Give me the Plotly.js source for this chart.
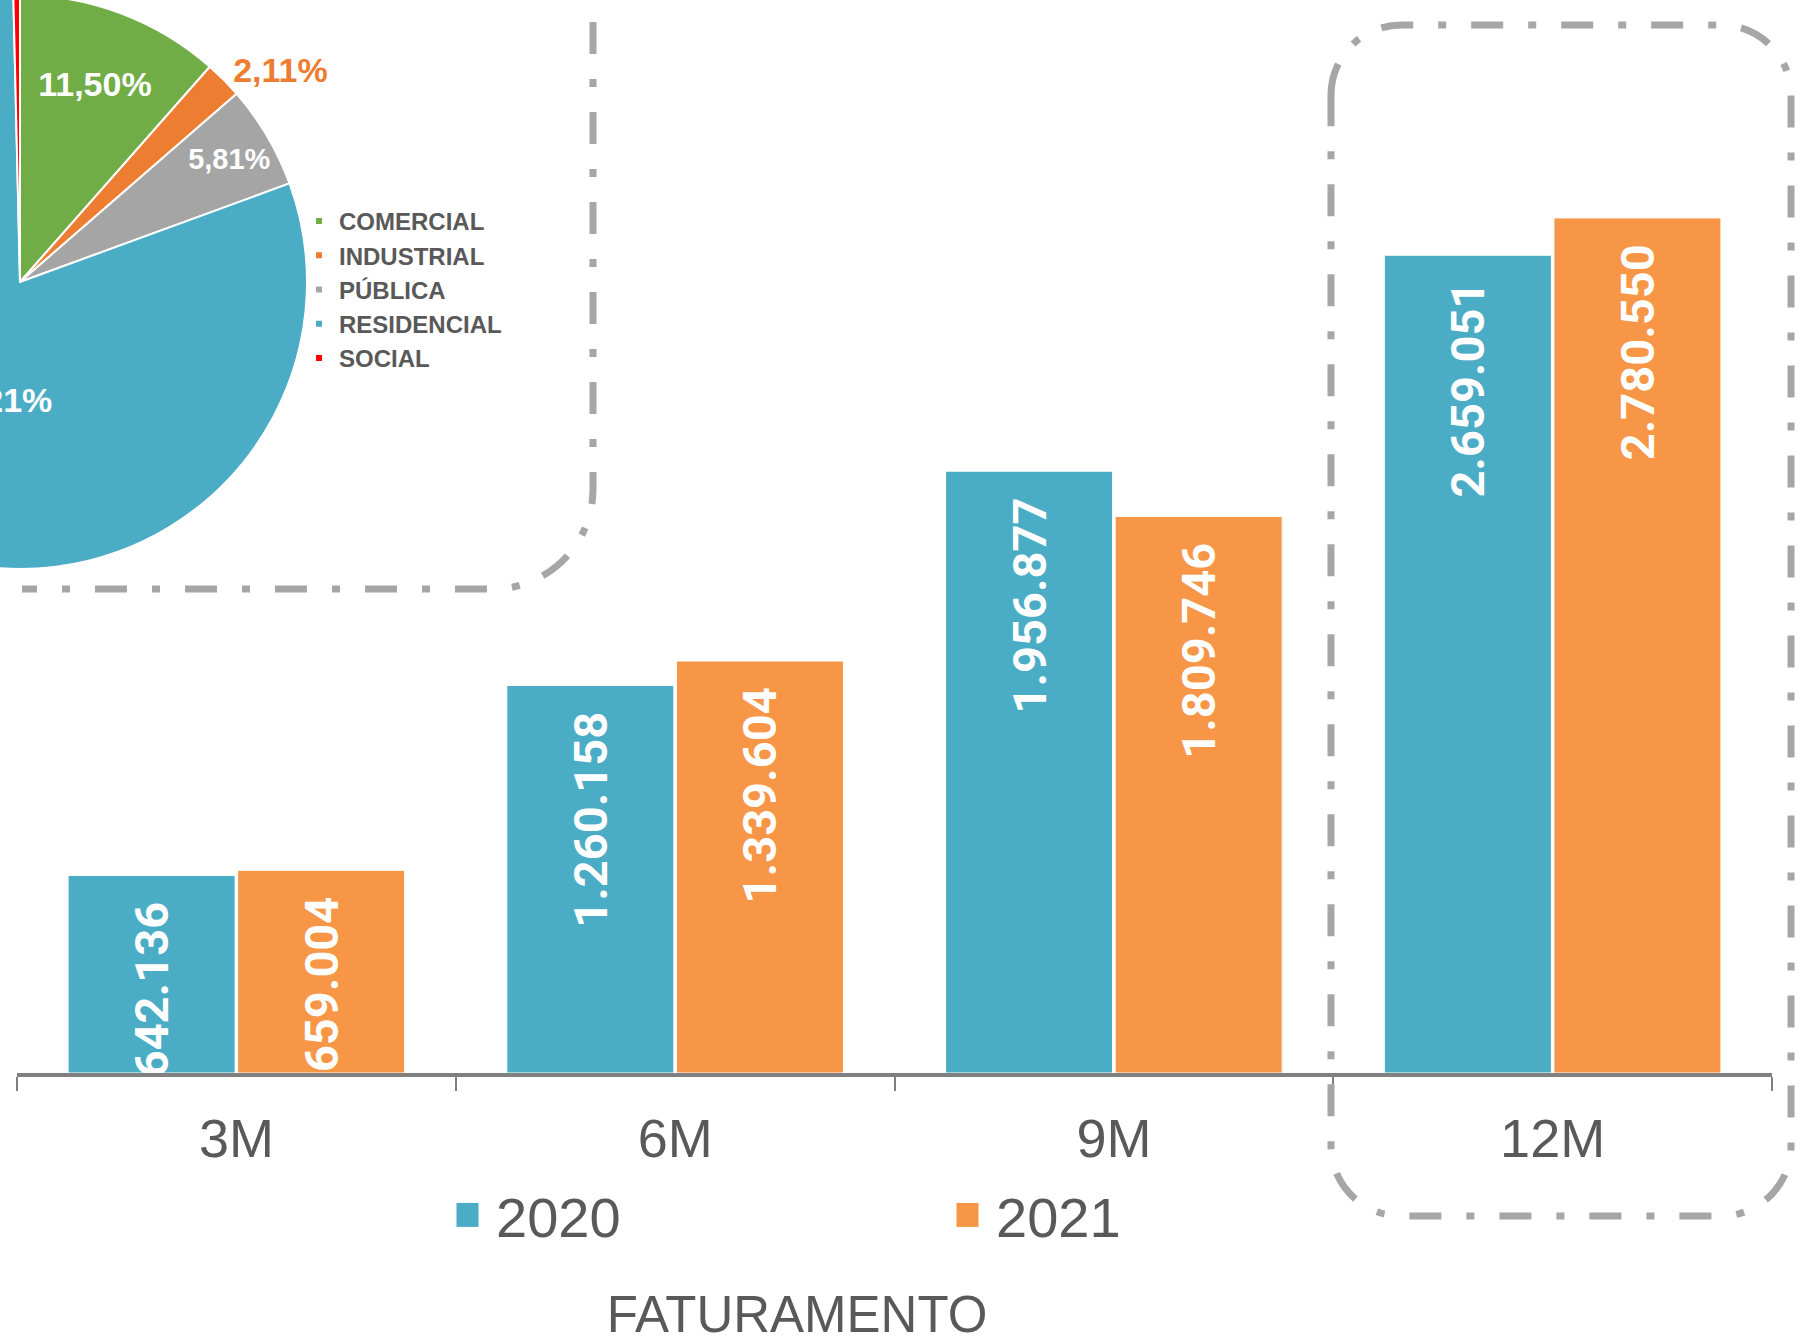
<!DOCTYPE html>
<html><head><meta charset="utf-8">
<script src="https://cdn.plot.ly/plotly-3.0.1.min.js"></script>
<style>
html,body{margin:0;padding:0;background:#fff;overflow:hidden;width:1804px;height:1343px}
#bar{position:absolute;left:0;top:0;width:1804px;height:1343px}
#pie{position:absolute}
</style></head><body>
<div id="bar"></div><div id="pie"></div>
<script>
// ---- data ----
const periods = ['3M', '6M', '9M', '12M'];
const fat2020 = [642136, 1260158, 1956877, 2659051];
const fat2021 = [659004, 1339604, 1809746, 2780550];
const seriesNames = ['2020', '2021'];
const classes = ['COMERCIAL', 'INDUSTRIAL', 'PÚBLICA', 'RESIDENCIAL', 'SOCIAL'];
const classShares = [11.50, 2.11, 5.81, 80.21, 0.37];
const chartTitle = 'FATURAMENTO';

// ---- styles ----
const C2020 = '#4BACC6', C2021 = '#F79646';
const pieColors = ['#70AD47', '#ED7D31', '#A5A5A5', '#4BACC6', '#FF0000'];
const grey = '#595959', boxGrey = '#A6A6A6';
const FONT = 'Liberation Sans, Arial, sans-serif';
const W = 1804, H = 1343;
const ml = 17, mr = 32, mt = 0, mb = 270;
const pw = W - ml - mr, ph = H - mt - mb;
const X = x => +((x - ml) / pw).toFixed(5);
const Y = y => +(1 - (y - mt) / ph).toFixed(5);
const P = (x, y) => X(x) + ',' + Y(y);

function roundBox(L, T, R, B, rr) {
  const k = 0.5523 * rr;
  return 'M' + P(L, T + rr) +
    ' C' + P(L, T + rr - k) + ' ' + P(L + rr - k, T) + ' ' + P(L + rr, T) +
    ' L' + P(R - rr, T) +
    ' C' + P(R - rr + k, T) + ' ' + P(R, T + rr - k) + ' ' + P(R, T + rr) +
    ' L' + P(R, B - rr) +
    ' C' + P(R, B - rr + k) + ' ' + P(R - rr + k, B) + ' ' + P(R - rr, B) +
    ' L' + P(L + rr, B) +
    ' C' + P(L + rr - k, B) + ' ' + P(L, B - rr + k) + ' ' + P(L, B - rr) + ' Z';
}
function cornerBox(Rx, Ty, By, Lx, rr) {
  const k = 0.5523 * rr;
  return 'M' + P(Rx, Ty) + ' L' + P(Rx, By - rr) +
    ' C' + P(Rx, By - rr + k) + ' ' + P(Rx - rr + k, By) + ' ' + P(Rx - rr, By) +
    ' L' + P(Lx, By);
}
const dashLine = {color: boxGrey, width: 7, dash: '32px,25px,8px,25px'};

const barText = '%{y:,.0f}\u00a0\u00a0';
const barCommon = {
  type: 'bar', x: periods, texttemplate: barText, textposition: 'inside',
  insidetextanchor: 'end', textangle: -90, constraintext: 'none',
  textfont: {family: 'Roboto', size: 47, color: '#FFFFFF', weight: 'bold'},
  hoverinfo: 'skip'
};
const barData = [
  Object.assign({}, barCommon, {name: seriesNames[0], y: fat2020,
    marker: {color: C2020, line: {color: '#FFFFFF', width: 1}}}),
  Object.assign({}, barCommon, {name: seriesNames[1], y: fat2021,
    marker: {color: C2021, line: {color: '#FFFFFF', width: 1}}})
];
const barLayout = {
  width: W, height: H, separators: ',.',
  margin: {l: ml, r: mr, t: mt, b: mb, pad: 0},
  paper_bgcolor: '#FFFFFF', plot_bgcolor: '#FFFFFF',
  barmode: 'group', bargap: 0.227, bargroupgap: 0.015,
  font: {family: FONT, color: grey},
  title: {text: chartTitle, font: {family: FONT, size: 51, color: grey},
    x: 0.4418, xref: 'container', xanchor: 'center', y: 0.0215, yref: 'container', yanchor: 'middle'},
  xaxis: {type: 'category', range: [-0.5, 3.5], showline: true, linecolor: '#808080', linewidth: 4,
    ticks: 'outside', tickson: 'boundaries', ticklen: 14, tickwidth: 2, tickcolor: '#808080',
    ticklabelstandoff: 15,
    tickfont: {family: FONT, size: 54, color: grey},
    showgrid: false, zeroline: false, fixedrange: true},
  yaxis: {range: [0, 3489000], visible: false, showgrid: false, zeroline: false, fixedrange: true},
  showlegend: true,
  legend: {orientation: 'h', x: X(456), xanchor: 'left', y: Y(1215), yanchor: 'middle',
    entrywidth: 455, entrywidthmode: 'pixels', bgcolor: 'rgba(0,0,0,0)',
    font: {family: FONT, size: 56, color: grey}},
  shapes: [
    {type: 'path', xref: 'paper', yref: 'paper', layer: 'above', path: roundBox(1331, 25, 1791, 1216, 70), line: dashLine},
    {type: 'path', xref: 'paper', yref: 'paper', layer: 'above', path: cornerBox(593, 22, 589, 22, 100), line: dashLine}
  ]
};

// ---- pie overlay ----
const cx = 20, cy = 282, pr = 287;
const PW = 1200, PH = 1000, half = 500;
const ox = cx - half, oy = cy - half;
const pieDiv = document.getElementById('pie');
pieDiv.style.left = ox + 'px';
pieDiv.style.top = oy + 'px';
pieDiv.style.width = PW + 'px';
pieDiv.style.height = PH + 'px';
const total = classShares.reduce((a, b) => a + b, 0);
const pct = v => (v / total * 100).toFixed(2).replace('.', ',') + '%';
const pieData = [{
  type: 'pie', labels: classes, values: classShares, sort: false,
  direction: 'clockwise', rotation: 0,
  domain: {x: [(half - pr) / PW, (half + pr) / PW], y: [(PH - half - pr) / PH, (PH - half + pr) / PH]},
  marker: {colors: pieColors, line: {color: '#FFFFFF', width: 2}},
  texttemplate: '%{percent:.2%}',
  textposition: ['inside', 'outside', 'inside', 'none', 'none'],
  insidetextorientation: 'horizontal',
  insidetextfont: {family: FONT, size: 34, color: '#FFFFFF', weight: 'bold'},
  outsidetextfont: {family: FONT, size: 34, color: '#ED7D31', weight: 'bold'},
  hoverinfo: 'skip'
}];
const pieLayout = {
  width: PW, height: PH, separators: ',.',
  margin: {l: 0, r: 0, t: 0, b: 0, pad: 0},
  paper_bgcolor: 'rgba(0,0,0,0)', plot_bgcolor: 'rgba(0,0,0,0)',
  showlegend: true,
  legend: {x: (299 - ox) / PW, xanchor: 'left', y: 1 - (199 - oy) / PH, yanchor: 'top',
    bgcolor: 'rgba(0,0,0,0)', traceorder: 'normal',
    font: {family: FONT, size: 24, color: grey, weight: 'bold'}},
  annotations: [{
    // residencial share label (partly outside the visible area, as in the original)
    text: '<b>' + pct(classShares[3]) + '</b>', showarrow: false,
    xref: 'paper', yref: 'paper', x: (54 - ox) / PW, xanchor: 'right', y: 1 - (400 - oy) / PH, yanchor: 'middle',
    font: {family: FONT, size: 34, color: '#FFFFFF'}
  }]
};

function resizeSymbols(sel, x0, x1, hh) {
  document.querySelectorAll(sel + ' .legendpoints path').forEach(p => {
    p.setAttribute('d', 'M' + x1 + ',' + hh + 'H' + x0 + 'V-' + hh + 'H' + x1 + 'Z');
  });
}
const cfg = {staticPlot: true, displayModeBar: false};
Plotly.newPlot('bar', barData, barLayout, cfg).then(() => resizeSymbols('#bar', -20, 3, 12.5));
Plotly.newPlot('pie', pieData, pieLayout, cfg).then(() => resizeSymbols('#pie', -4, 4, 4));
</script>
</body></html>
